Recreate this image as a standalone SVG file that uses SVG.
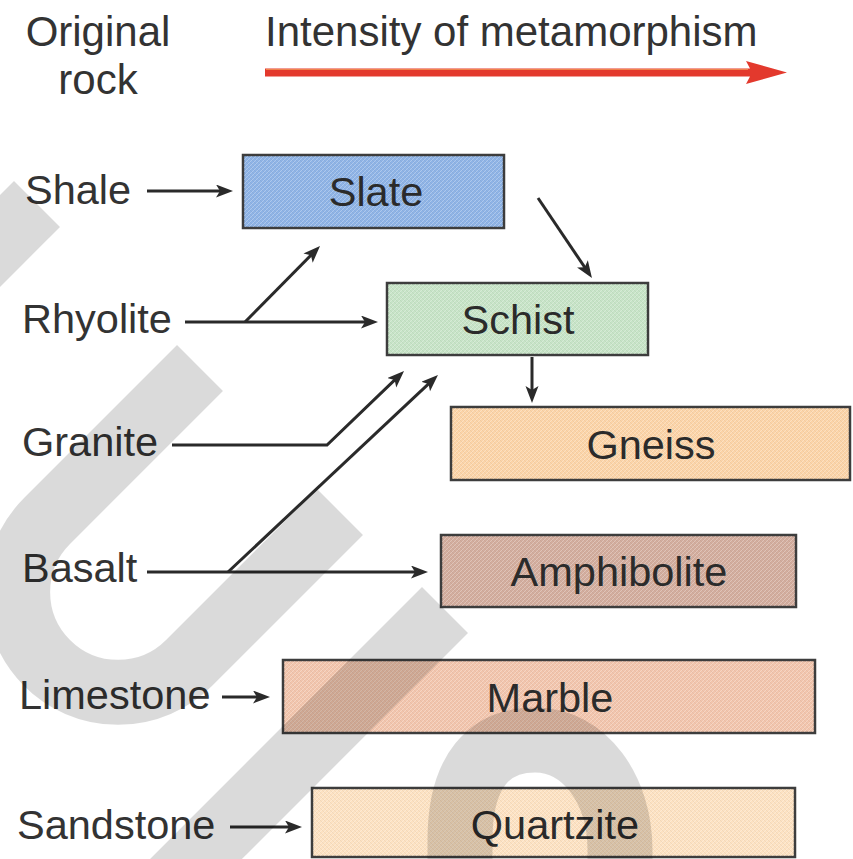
<svg xmlns="http://www.w3.org/2000/svg" width="853" height="859" viewBox="0 0 853 859">
  <style>
    text { font-family: "Liberation Sans", Arial, Helvetica, sans-serif; font-size: 41.5px; fill: #333333; }
    .title { font-size: 42px; }
    .box { stroke: #3d3d3d; stroke-width: 2.5; }
    .hatch { fill: url(#hatch); stroke: none; }
    .lbl { text-anchor: middle; fill: #2b2b2b; }
    .conn { fill: none; stroke: #2a2a2a; stroke-width: 3; marker-end: url(#ah); }
    .wm { fill: none; stroke: #000000; stroke-opacity: 0.145; stroke-width: 65; stroke-linejoin: round; }
  </style>
  <defs>
    <marker id="ah" markerUnits="userSpaceOnUse" markerWidth="18" markerHeight="14" refX="11" refY="6.5" orient="auto">
      <path d="M0,0 L17,6.5 L0,13 L4,6.5 z" fill="#2a2a2a"/>
    </marker>
    <pattern id="hatch" patternUnits="userSpaceOnUse" width="4" height="4">
      <path d="M0,4 L4,0" stroke="#ffffff" stroke-opacity="0.3" stroke-width="0.9"/>
      <path d="M0,0 L4,4" stroke="#000000" stroke-opacity="0.05" stroke-width="0.9"/>
    </pattern>
  </defs>

  <rect x="0" y="0" width="853" height="859" fill="#ffffff"/>

  <g id="header">
    <text class="title" x="98" y="46" text-anchor="middle">Original</text>
    <text class="title" x="98" y="94" text-anchor="middle">rock</text>
    <text class="title" x="265" y="46">Intensity of metamorphism</text>
    <path d="M265,68.5 L750,68.5 L746,61 L787,72.5 L746,84 L750,76.5 L265,76.5 z" fill="#e3392d"/>
    <path d="M266,69.5 L748,69.5" stroke="#f5a25a" stroke-width="1.2" stroke-opacity="0.7"/>
  </g>

  <g id="source-labels">
    <text id="shale" x="25" y="204">Shale</text>
    <text id="rhyolite" x="22" y="333">Rhyolite</text>
    <text id="granite" x="22" y="456">Granite</text>
    <text id="basalt" x="22" y="582">Basalt</text>
    <text id="limestone" x="19" y="709">Limestone</text>
    <text id="sandstone" x="17" y="839">Sandstone</text>
  </g>

  <g id="slate">
    <rect class="box" x="243" y="155" width="261" height="73" fill="#8fb4e6"/>
    <rect class="hatch" x="244" y="156" width="259" height="71"/>
    <text class="lbl" x="376" y="206">Slate</text>
  </g>
  <g id="schist">
    <rect class="box" x="387" y="283" width="261" height="72" fill="#c7e4c7"/>
    <rect class="hatch" x="388" y="284" width="259" height="70"/>
    <text class="lbl" x="518" y="334">Schist</text>
  </g>
  <g id="gneiss">
    <rect class="box" x="451" y="407" width="399" height="73" fill="#fcd4a8"/>
    <rect class="hatch" x="452" y="408" width="397" height="71"/>
    <text class="lbl" x="651" y="459">Gneiss</text>
  </g>
  <g id="amphibolite">
    <rect class="box" x="441" y="535" width="355" height="72" fill="#d3ad9e"/>
    <rect class="hatch" x="442" y="536" width="353" height="70"/>
    <text class="lbl" x="619" y="586">Amphibolite</text>
  </g>
  <g id="marble">
    <rect class="box" x="283" y="660" width="532" height="73" fill="#f2c5ad"/>
    <rect class="hatch" x="284" y="661" width="530" height="71"/>
    <text class="lbl" x="550" y="712">Marble</text>
  </g>
  <g id="quartzite">
    <rect class="box" x="312" y="788" width="483" height="69" fill="#fde2c2"/>
    <rect class="hatch" x="313" y="789" width="481" height="67"/>
    <text class="lbl" x="555" y="839">Quartzite</text>
  </g>

  <g id="connectors">
    <line class="conn" x1="147" y1="191" x2="227" y2="191"/>
    <line class="conn" x1="185" y1="322" x2="372" y2="322"/>
    <line class="conn" x1="245" y1="322" x2="315.8" y2="250.3"/>
    <line class="conn" x1="538" y1="198" x2="588.6" y2="273"/>
    <line class="conn" x1="532" y1="357" x2="532" y2="397"/>
    <polyline class="conn" points="172,445 327,445 399.7,375.2"/>
    <line class="conn" x1="147" y1="572" x2="422" y2="572"/>
    <line class="conn" x1="228" y1="572" x2="433.6" y2="379.1"/>
    <line class="conn" x1="222" y1="697" x2="264" y2="697"/>
    <line class="conn" x1="230" y1="827" x2="296" y2="827"/>
  </g>

  <g id="watermark">
    <path class="wm" d="M37,204 L-80,321"/>
    <path class="wm" d="M200,368 L47,521 A100,100 0 0 0 189,663 L340,512"/>
    <path class="wm" d="M445,610 L145,910"/>
    <path class="wm" d="M460,900 L460,840 C460,770 490,740 535,740 C585,740 620,790 620,850 L620,900"/>
  </g>
</svg>
